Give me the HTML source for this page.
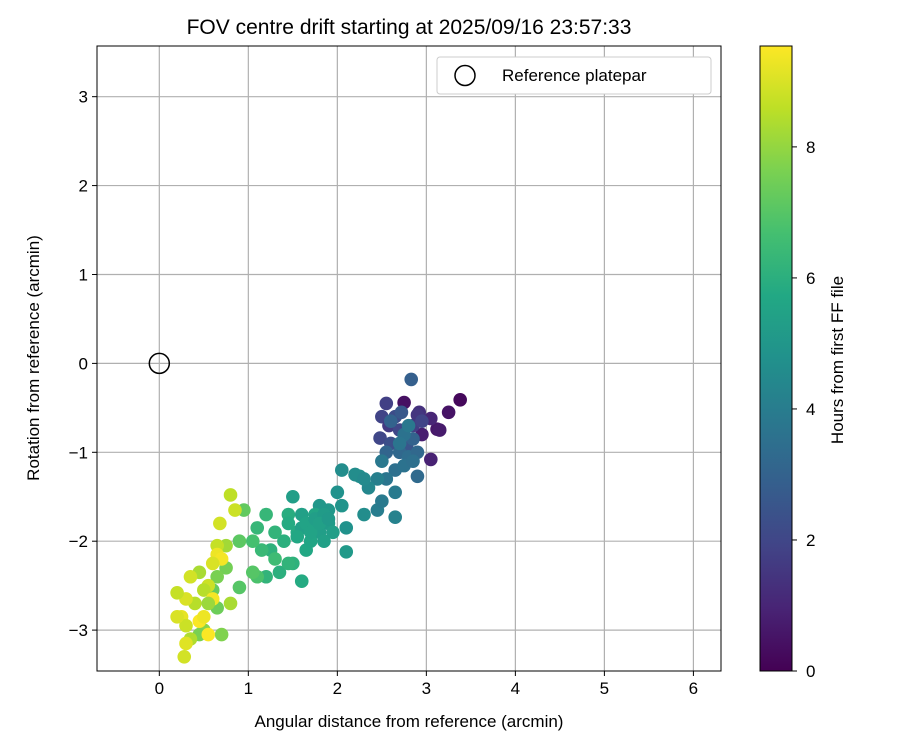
<!DOCTYPE html>
<html><head><meta charset="utf-8"><style>
body{margin:0;background:#fff;}
svg{display:block;font-family:"Liberation Sans","DejaVu Sans",sans-serif;}
</style></head><body>
<svg id="chart" width="900" height="750" xmlns="http://www.w3.org/2000/svg">
<defs>
<linearGradient id="vir" x1="0" y1="1" x2="0" y2="0">
<stop offset="0" stop-color="#440154"/><stop offset="0.1" stop-color="#482475"/><stop offset="0.2" stop-color="#414487"/><stop offset="0.3" stop-color="#355f8d"/><stop offset="0.4" stop-color="#2a788e"/><stop offset="0.5" stop-color="#21918c"/><stop offset="0.6" stop-color="#22a884"/><stop offset="0.7" stop-color="#44bf70"/><stop offset="0.8" stop-color="#7ad151"/><stop offset="0.9" stop-color="#bddf26"/><stop offset="1" stop-color="#fde725"/>
</linearGradient>
<clipPath id="clip"><rect x="97" y="46" width="624" height="625"/></clipPath>
</defs>
<rect width="900" height="750" fill="#fff"/>
<text x="409" y="34" font-size="21" text-anchor="middle">FOV centre drift starting at 2025/09/16 23:57:33</text>
<g id="grid"></g>
<g id="points" clip-path="url(#clip)"></g>
<rect x="97" y="46" width="624" height="625" fill="none" stroke="#000" stroke-width="1"/>
<g id="ticks"></g>
<text x="409" y="727" font-size="17" text-anchor="middle">Angular distance from reference (arcmin)</text>
<text transform="translate(39,358) rotate(-90)" font-size="17" text-anchor="middle">Rotation from reference (arcmin)</text>
<g>
<rect x="437" y="57" width="274" height="37" rx="3" fill="#fff" stroke="#ccc"/>
<circle cx="465" cy="75.5" r="10" fill="none" stroke="#000" stroke-width="1.5"/>
<text x="502" y="81" font-size="17">Reference platepar</text>
</g>
<rect x="760" y="46" width="32" height="625" fill="url(#vir)" stroke="#000" stroke-width="1"/>
<g id="cbticks"></g>
<text transform="translate(843,360) rotate(-90)" font-size="17" text-anchor="middle">Hours from first FF file</text>
</svg>
<script>
const xs=[3.38,3.25,3.12,3.05,2.75,2.95,3.05,2.92,3.15, 2.55,2.5,2.58,2.48,2.65,2.7,2.85,2.9,2.6,2.78,2.83,2.72, 2.7,2.8,2.9,2.65,2.55,2.85,2.75,2.5,2.65,2.55,2.45,2.5,2.65,2.6,2.45,2.9, 2.35,2.3,2.2,2.1,2.05,2.0,2.05,1.9,2.1,1.8,2.25, 1.5,1.6,1.7,1.8,1.9,1.75,1.85,1.65,1.55,1.45,1.4,1.6,1.5,1.3,1.2,1.25,1.35,1.15,1.2,1.3,1.1,1.95,1.7,1.45, 1.05,1.1,1.05,0.9,0.9,0.95,0.75,0.65,0.6,0.65,0.7,0.5,0.45, 0.8,0.85,0.68,0.75,0.65,0.65,0.7,0.6,0.55,0.5,0.45,0.35,0.4,0.3,0.2,0.25,0.3,0.45,0.5,0.55,0.35,0.3,0.28,0.2,0.6,0.8,0.55, 2.75,2.8,2.7,2.85,2.95,1.6,1.65,1.75,1.85,1.55,1.45,1.7,1.8,1.9,2.2,2.3];
const ys=[-0.41,-0.55,-0.74,-1.08,-0.44,-0.8,-0.62,-0.55,-0.75, -0.45,-0.6,-0.7,-0.84,-0.6,-0.75,-0.7,-0.58,-0.9,-0.95,-0.18,-0.55, -1.0,-1.05,-1.27,-1.2,-1.0,-0.85,-1.15,-1.1,-1.45,-1.3,-1.65,-1.55,-1.73,-0.65,-1.3,-1.0, -1.4,-1.7,-1.25,-1.85,-1.2,-1.45,-1.6,-1.65,-2.12,-1.6,-1.27, -1.5,-1.7,-1.8,-1.9,-1.8,-1.7,-2.0,-2.1,-1.9,-1.7,-2.0,-2.45,-2.25,-1.9,-1.7,-2.1,-2.35,-2.1,-2.4,-2.2,-1.85,-1.9,-2.0,-2.25, -2.0,-2.4,-2.35,-2.0,-2.52,-1.65,-2.3,-2.75,-2.55,-2.4,-3.05,-3.0,-3.05, -1.48,-1.65,-1.8,-2.05,-2.05,-2.15,-2.2,-2.25,-2.5,-2.55,-2.35,-2.4,-2.7,-2.65,-2.58,-2.85,-2.95,-2.9,-2.85,-3.05,-3.1,-3.15,-3.3,-2.85,-2.65,-2.7,-2.7, -0.8,-0.7,-0.9,-1.1,-0.65,-1.85,-1.8,-1.75,-1.7,-1.95,-1.8,-1.9,-1.8,-1.75,-1.25,-1.3];
const hours=[0.2,0.5,0.6,0.9,0.4,0.8,1.0,1.3,0.7, 1.8,1.9,1.6,2.0,2.2,2.0,1.7,1.5,2.3,2.5,2.9,2.6, 3.2,3.4,3.3,3.5,3.1,3.0,3.6,3.8,3.9,3.7,4.0,3.9,4.2,3.0,4.1,3.2, 4.4,4.6,4.5,4.8,4.6,4.8,4.9,5.0,5.1,5.0,4.7, 5.3,5.4,5.5,5.3,5.2,5.6,5.4,5.7,5.8,5.9,6.0,5.8,6.1,6.2,6.3,6.1,6.0,6.4,6.2,6.5,6.3,5.3,5.6,6.2, 6.7,6.8,7.0,7.1,7.0,7.2,7.5,7.4,7.3,7.6,7.7,7.8,7.6, 8.6,8.8,8.9,8.2,8.7,9.3,9.4,9.0,8.8,8.5,8.3,8.9,8.5,9.0,8.7,9.2,8.8,9.5,9.3,9.5,8.4,9.1,8.9,9.0,9.4,8.3,8.1, 3.6,3.8,3.7,3.5,1.9,5.4,5.5,5.3,5.2,5.7,5.8,5.5,5.4,5.1,4.6,4.5];
const xTicks=[0,1,2,3,4,5,6];
const yTicks=[-3,-2,-1,0,1,2,3];
const cTicks=[0,2,4,6,8];
const X0=-0.7,X1=6.31,Y0=-3.46,Y1=3.57,H1=9.54;
const L=97,R=721,T=46,B=671;
const sx=v=>L+(v-X0)/(X1-X0)*(R-L);
const sy=v=>B-(v-Y0)/(Y1-Y0)*(B-T);
const sc=v=>671-v/H1*625;
const VS=[[68,1,84],[72,36,117],[65,68,135],[53,95,141],[42,120,142],[33,145,140],[34,168,132],[68,191,112],[122,209,81],[189,223,38],[253,231,37]];
function vir(t){t=Math.max(0,Math.min(1,t))*(VS.length-1);const i=Math.min(Math.floor(t),VS.length-2),f=t-i;const c=VS[i].map((a,k)=>Math.round(a+(VS[i+1][k]-a)*f));return `rgb(${c})`;}
const NS="http://www.w3.org/2000/svg";
function mk(tag,attrs,parent){const e=document.createElementNS(NS,tag);for(const k in attrs)e.setAttribute(k,attrs[k]);parent.appendChild(e);return e;}
const grid=document.getElementById('grid'),ticks=document.getElementById('ticks'),pts=document.getElementById('points'),cb=document.getElementById('cbticks');
xTicks.forEach(v=>{const x=sx(v);
const g=mk('line',{x1:x,x2:x,y1:T,y2:B,stroke:'#b0b0b0','stroke-width':1.2},grid);


const t=mk('line',{x1:x,x2:x,y1:B,y2:B+5,stroke:'#000'},ticks);


const l=mk('text',{x:x,y:B+23,'font-size':17,'text-anchor':'middle'},ticks);l.textContent=v;

});
yTicks.forEach(v=>{const y=sy(v);
const g=mk('line',{x1:L,x2:R,y1:y,y2:y,stroke:'#b0b0b0','stroke-width':1.2},grid);


const t=mk('line',{x1:L-5,x2:L,y1:y,y2:y,stroke:'#000'},ticks);


const l=mk('text',{x:L-9,y:y+6,'font-size':17,'text-anchor':'end'},ticks);l.textContent=v<0?'\u2212'+(-v):v;

});
xs.forEach((x,i)=>{const c=mk('circle',{cx:sx(x),cy:sy(ys[i]),r:6.8,fill:vir(hours[i]/H1)},pts);

});
const ref=mk('circle',{cx:sx(0),cy:sy(0),r:10,fill:'none',stroke:'#000','stroke-width':1.5},pts);


cTicks.forEach(v=>{const y=sc(v);
const t=mk('line',{x1:792,x2:797,y1:y,y2:y,stroke:'#000'},cb);


const l=mk('text',{x:806,y:y+6,'font-size':17},cb);l.textContent=v;

});
</script>
</body></html>
